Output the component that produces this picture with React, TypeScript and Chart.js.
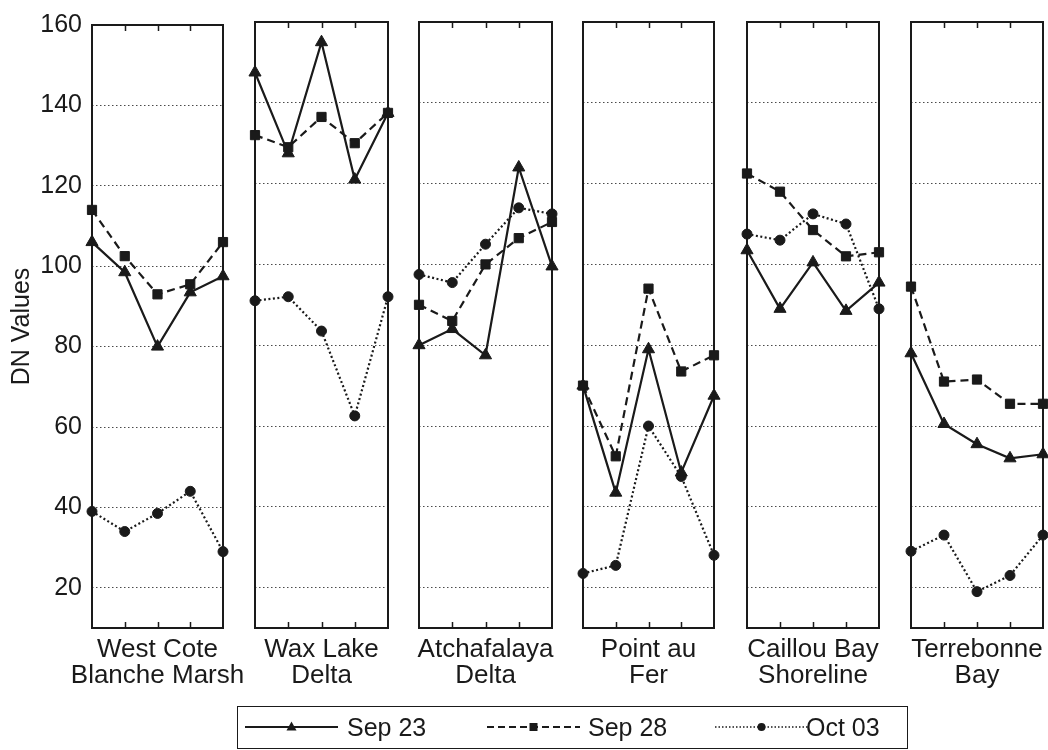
import React, { useEffect, useRef } from 'react';
import { Chart, registerables } from 'chart.js';

Chart.register(...registerables);

// ---------- data ----------
const siteNames: string[][] = [
  ['West Cote', 'Blanche Marsh'],
  ['Wax Lake', 'Delta'],
  ['Atchafalaya', 'Delta'],
  ['Point au', 'Fer'],
  ['Caillou Bay', 'Shoreline'],
  ['Terrebonne', 'Bay'],
];
const samplePoints = ['1', '2', '3', '4', '5'];
const seriesNames = ['Sep 23', 'Sep 28', 'Oct 03'];
const yTicks = [20, 40, 60, 80, 100, 120, 140, 160];

const sep23: number[][] = [
  [106, 98.5, 80, 93.5, 97.5],
  [147.5, 127.5, 155, 121, 137.5],
  [80, 84, 77.5, 124, 99.5],
  [70, 43.5, 79, 48.5, 67.5],
  [103.5, 89, 100.5, 88.5, 95.5],
  [78, 60.5, 55.5, 52, 53],
];
const sep28: number[][] = [
  [114, 102.5, 93, 95.5, 106],
  [132, 129, 136.5, 130, 137.5],
  [90, 86, 100, 106.5, 110.5],
  [70, 52.5, 94, 73.5, 77.5],
  [122.5, 118, 108.5, 102, 103],
  [94.5, 71, 71.5, 65.5, 65.5],
];
const oct03: number[][] = [
  [39, 34, 38.5, 44, 29],
  [91, 92, 83.5, 62.5, 92],
  [97.5, 95.5, 105, 114, 112.5],
  [23.5, 25.5, 60, 47.5, 28],
  [107.5, 106, 112.5, 110, 89],
  [29, 33, 19, 23, 33],
];

// ---------- layout / style ----------
const PANEL_LEFT = [92, 255, 419, 583, 747, 911];
const PANEL_RIGHT = [223, 388, 552, 714, 879, 1043];
const CANVAS_H = 700;
const AREA_TOP = 22;
const AREA_BOTTOM = 628;
const MARGIN = 40;
const INK = '#1a1a1a';
const FAMILY = "'Liberation Sans', Arial, Helvetica, sans-serif";
const LABEL_SIZE = 26;

const framePlugin = {
  id: 'panelFrame',
  beforeDatasetsDraw(chart: any) {
    const { ctx, chartArea, scales } = chart;
    const { left, right, top, bottom } = chartArea;
    ctx.save();
    ctx.strokeStyle = INK;
    ctx.lineWidth = 1.5;
    ctx.setLineDash([]);
    for (let i = 1; i < samplePoints.length - 1; i++) {
      const x = Math.round(scales.x.getPixelForValue(i)) + 0.5;
      ctx.beginPath();
      ctx.moveTo(x, bottom);
      ctx.lineTo(x, bottom - 6);
      ctx.moveTo(x, top);
      ctx.lineTo(x, top + 6);
      ctx.stroke();
    }
    ctx.lineWidth = 2;
    ctx.strokeRect(left, top, right - left, bottom - top);
    ctx.restore();
  },
  afterDraw(chart: any, _args: any, opts: any) {
    const { ctx, chartArea } = chart;
    const lines: string[] = opts.lines || [];
    const cx = (chartArea.left + chartArea.right) / 2;
    ctx.save();
    ctx.fillStyle = INK;
    ctx.font = `${LABEL_SIZE}px ${FAMILY}`;
    ctx.textAlign = 'center';
    ctx.textBaseline = 'middle';
    lines.forEach((t, k) => {
      ctx.fillText(t, cx, chartArea.bottom + 22 + k * 26);
    });
    ctx.restore();
  },
};

function Panel({ index }: { index: number }) {
  const ref = useRef<HTMLCanvasElement | null>(null);
  const first = index === 0;
  const left = PANEL_LEFT[index];
  const right = PANEL_RIGHT[index];
  const canvasLeft = first ? 0 : left - MARGIN;
  const canvasWidth = right + MARGIN - canvasLeft;
  const yWidth = left - canvasLeft;

  useEffect(() => {
    if (!ref.current) return;
    const common = { borderColor: INK, backgroundColor: INK, pointBorderColor: INK, pointBackgroundColor: INK, borderWidth: 2.2, pointBorderWidth: 1, clip: false as any, tension: 0 };
    const chart = new Chart(ref.current, {
      type: 'line',
      data: {
        labels: samplePoints,
        datasets: [
          { ...common, label: seriesNames[0], data: sep23[index], pointStyle: 'triangle', pointRadius: 7 },
          { ...common, label: seriesNames[1], data: sep28[index], pointStyle: 'rect', pointRadius: 6.5, borderDash: [8, 5] },
          { ...common, label: seriesNames[2], data: oct03[index], pointStyle: 'circle', pointRadius: 5, borderDash: [2, 2.5] },
        ],
      },
      options: {
        animation: false,
        responsive: false,
        maintainAspectRatio: false,
        events: [],
        layout: { padding: { top: AREA_TOP, right: MARGIN, left: 0, bottom: 0 } },
        plugins: {
          legend: { display: false },
          tooltip: { enabled: false },
          panelFrame: { lines: siteNames[index] },
        } as any,
        scales: {
          x: {
            type: 'category',
            offset: false,
            grid: { display: false, drawTicks: false },
            border: { display: false },
            ticks: { display: false },
            title: { display: false },
            afterFit: (s: any) => { s.height = CANVAS_H - AREA_BOTTOM; },
          },
          y: {
            min: 10,
            max: 160,
            afterBuildTicks: (s: any) => { s.ticks = yTicks.map((v) => ({ value: v })); },
            grid: { color: '#4a4a4a', lineWidth: 1, drawTicks: false },
            border: { display: false, dash: [1.5, 2.5] },
            ticks: { display: first, padding: 10, color: INK, font: { family: FAMILY, size: 25 } },
            title: {
              display: first,
              text: 'DN Values',
              color: INK,
              font: { family: FAMILY, size: 25, lineHeight: 1.2 },
              padding: { top: 7, bottom: 0 },
            },
            afterFit: (s: any) => { s.width = yWidth; },
          },
        },
      },
      plugins: [framePlugin],
    });
    return () => chart.destroy();
  }, []);

  return (
    <canvas
      ref={ref}
      width={canvasWidth}
      height={CANVAS_H}
      style={{ position: 'absolute', left: canvasLeft, top: 0, width: canvasWidth, height: CANVAS_H }}
    />
  );
}

function LegendSample({ kind }: { kind: number }) {
  const dash = kind === 0 ? undefined : kind === 1 ? '7 4' : '1.5 2';
  return (
    <svg width={93} height={20} style={{ display: 'block' }}>
      <line x1={0} y1={10} x2={93} y2={10} stroke={INK} strokeWidth={kind === 2 ? 1.5 : 2} strokeDasharray={dash} />
      {kind === 0 && <polygon points="46.5,4.5 51.5,13.5 41.5,13.5" fill={INK} />}
      {kind === 1 && <rect x={42.5} y={6} width={8} height={8} fill={INK} />}
      {kind === 2 && <circle cx={46.5} cy={10} r={4} fill={INK} />}
    </svg>
  );
}

function Legend() {
  const items = [
    { x: 7, tx: 109 },
    { x: 249, tx: 350 },
    { x: 477, tx: 568 },
  ];
  return (
    <div
      style={{
        position: 'absolute', left: 237, top: 706, width: 671, height: 43,
        border: `1.5px solid ${INK}`, boxSizing: 'border-box', background: '#fff',
        fontFamily: FAMILY, fontSize: 25, color: INK,
      }}
    >
      {seriesNames.map((name, i) => (
        <div key={name}>
          <div style={{ position: 'absolute', left: items[i].x, top: 10 }}>
            <LegendSample kind={i} />
          </div>
          <div style={{ position: 'absolute', left: items[i].tx, top: 5, lineHeight: '30px', whiteSpace: 'nowrap' }}>{name}</div>
        </div>
      ))}
    </div>
  );
}

export default function App() {
  return (
    <div style={{ position: 'fixed', left: 0, top: 0, width: 1048, height: 750, overflow: 'hidden', background: '#fff' }}>
      {siteNames.map((_, i) => (
        <Panel key={i} index={i} />
      ))}
      <Legend />
    </div>
  );
}
